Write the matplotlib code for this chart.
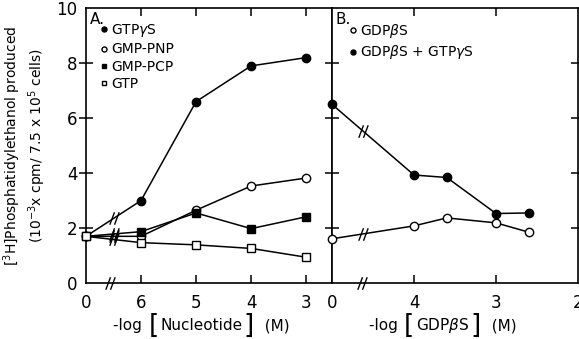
import matplotlib
matplotlib.use('Agg')
import matplotlib.pyplot as plt
from matplotlib.path import Path
from matplotlib.offsetbox import TextArea, HPacker, AnchoredOffsetbox

# Panel A: control ("0") then -log[nucleotide] = 6, 5, 4, 3
a_logs = [6, 5, 4, 3]
a_ticklabels = ['0', '6', '5', '4', '3']
gtpgs = [1.7, 3.0, 6.6, 7.9, 8.2]
gmp_pnp = [1.7, 1.7, 2.65, 3.53, 3.82]
gmp_pcp = [1.7, 1.87, 2.55, 1.98, 2.41]
gtp = [1.7, 1.47, 1.39, 1.26, 0.94]

# Panel B: control ("0") then -log[GDPbS] = 4, 3.6, 3, 2.6
b_logs = [4, 3.6, 3, 2.6]
b_ticks = [4, 3, 2]
b_ticklabels = ['0', '4', '3', '2']
gdpbs = [1.61, 2.08, 2.37, 2.19, 1.85]
gdpbs_gtpgs = [6.5, 3.93, 3.84, 2.53, 2.55]

plt.rcParams['font.family'] = 'DejaVu Sans'
plt.rcParams['mathtext.fontset'] = 'dejavusans'

fig = plt.figure(figsize=(5.79, 3.39), dpi=100)
axA = fig.add_axes([0.1485, 0.165, 0.4249, 0.811])
axB = fig.add_axes([0.5734, 0.165, 0.4249, 0.811])

# axis break marker "//"
brk = Path([(-1.5, -2), (0, 2), (0, -2), (1.5, 2)],
           [Path.MOVETO, Path.LINETO, Path.MOVETO, Path.LINETO])


def brk_mark(ax, x, y):
    ax.plot([x], [y], ls='none', marker=brk, ms=9, mec='k', mew=1.0,
            clip_on=False, zorder=5)


# x label with tall brackets: -log [ name ] (M)
def bracket_label(ax, name, x):
    small = dict(fontsize=11)
    big = dict(fontsize=19)
    box = HPacker(children=[TextArea('-log ', textprops=small),
                            TextArea('[', textprops=big),
                            TextArea(name, textprops=small),
                            TextArea(']', textprops=big),
                            TextArea('  (M)', textprops=small)],
                  align='center', pad=0, sep=1)
    anc = AnchoredOffsetbox(loc='center', child=box, pad=0, frameon=False,
                            bbox_to_anchor=(x, -0.155),
                            bbox_transform=ax.transAxes, borderpad=0)
    ax.add_artist(anc)


# ---- Panel A ----
a_pos = [0] + [7 - v for v in a_logs]
kw = dict(color='k', lw=1.1, clip_on=False, zorder=3)
axA.plot(a_pos, gtpgs, marker='o', ms=6, mfc='k', mec='k', label='GTP$\\gamma$S', **kw)
axA.plot(a_pos, gmp_pnp, marker='o', ms=6, mfc='white', mec='k', label='GMP-PNP', **kw)
axA.plot(a_pos, gmp_pcp, marker='s', ms=6, mfc='k', mec='k', label='GMP-PCP', **kw)
axA.plot(a_pos, gtp, marker='s', ms=5.5, mfc='white', mec='k', label='GTP', **kw)

bxA = 0.5
for s in [gtpgs, gmp_pnp, gmp_pcp, gtp]:
    brk_mark(axA, bxA, s[0] + (s[1] - s[0]) * bxA)
brk_mark(axA, 0.44, 0)

axA.set_xlim(0, 4.47)
axA.set_ylim(0, 10)
axA.set_xticks(range(5))
axA.set_xticklabels(a_ticklabels)
axA.set_yticks([0, 2, 4, 6, 8, 10])
axA.set_yticklabels(['0', '2', '4', '6', '8', '10'])
axA.tick_params(axis='x', direction='in', length=6, width=1.1, top=True,
                labelsize=12, pad=8)
axA.tick_params(axis='y', direction='inout', length=10, width=1.1,
                labelsize=12, pad=1)
axA.xaxis.get_major_ticks()[0].tick1line.set_visible(False)
axA.xaxis.get_major_ticks()[0].tick2line.set_visible(False)
axA.yaxis.get_major_ticks()[0].tick1line.set_visible(False)
axA.yaxis.get_major_ticks()[-1].tick1line.set_visible(False)
for sp in axA.spines.values():
    sp.set_linewidth(1.2)

leg = axA.legend(loc='upper left', bbox_to_anchor=(0.04, 0.97), frameon=False,
                 handlelength=0.4, handletextpad=0.3, labelspacing=0.25,
                 markerscale=0.6, fontsize=10, borderaxespad=0)
for h in leg.legend_handles:
    h.set_linestyle('none')
axA.text(0.015, 0.985, 'A.', transform=axA.transAxes, fontsize=11,
         va='top', ha='left')

axA.set_ylabel('$\\left[^{3}\\mathsf{H}\\right]$Phosphatidylethanol produced\n'
               '(10$^{-3}$x cpm/ 7.5 x 10$^{5}$ cells)', fontsize=10,
               labelpad=6, linespacing=1.25)
bracket_label(axA, 'Nucleotide', 0.47)

# ---- Panel B ----
b_pos = [0] + [5 - v for v in b_logs]
axB.plot(b_pos, gdpbs, marker='o', ms=6, mfc='white', mec='k', label='GDP$\\beta$S', **kw)
axB.plot(b_pos, gdpbs_gtpgs, marker='o', ms=6, mfc='k', mec='k',
         label='GDP$\\beta$S + GTP$\\gamma$S', **kw)

bxB = 0.38
for s in [gdpbs, gdpbs_gtpgs]:
    brk_mark(axB, bxB, s[0] + (s[1] - s[0]) * bxB)
brk_mark(axB, 0.37, 0)

axB.set_xlim(0, 3)
axB.set_ylim(0, 10)
axB.set_xticks([0] + [5 - v for v in b_ticks])
axB.set_xticklabels(b_ticklabels)
axB.set_yticks([2, 4, 6, 8])
axB.tick_params(axis='x', direction='in', length=6, width=1.1, top=True,
                labelsize=12, pad=8)
axB.tick_params(axis='y', direction='inout', length=10, width=1.1, right=True,
                labelleft=False)
axB.xaxis.get_major_ticks()[0].tick1line.set_visible(False)
axB.xaxis.get_major_ticks()[0].tick2line.set_visible(False)
axB.xaxis.get_major_ticks()[-1].tick1line.set_visible(False)
axB.xaxis.get_major_ticks()[-1].tick2line.set_visible(False)
for sp in axB.spines.values():
    sp.set_linewidth(1.2)

legB = axB.legend(loc='upper left', bbox_to_anchor=(0.05, 0.97), frameon=False,
                  handlelength=0.4, handletextpad=0.3, labelspacing=0.25,
                  markerscale=0.6, fontsize=10, borderaxespad=0)
for h in legB.legend_handles:
    h.set_linestyle('none')
axB.text(0.015, 0.985, 'B.', transform=axB.transAxes, fontsize=11,
         va='top', ha='left')
bracket_label(axB, 'GDP$\\beta$S', 0.45)

fig.savefig('out.png', dpi=100)
